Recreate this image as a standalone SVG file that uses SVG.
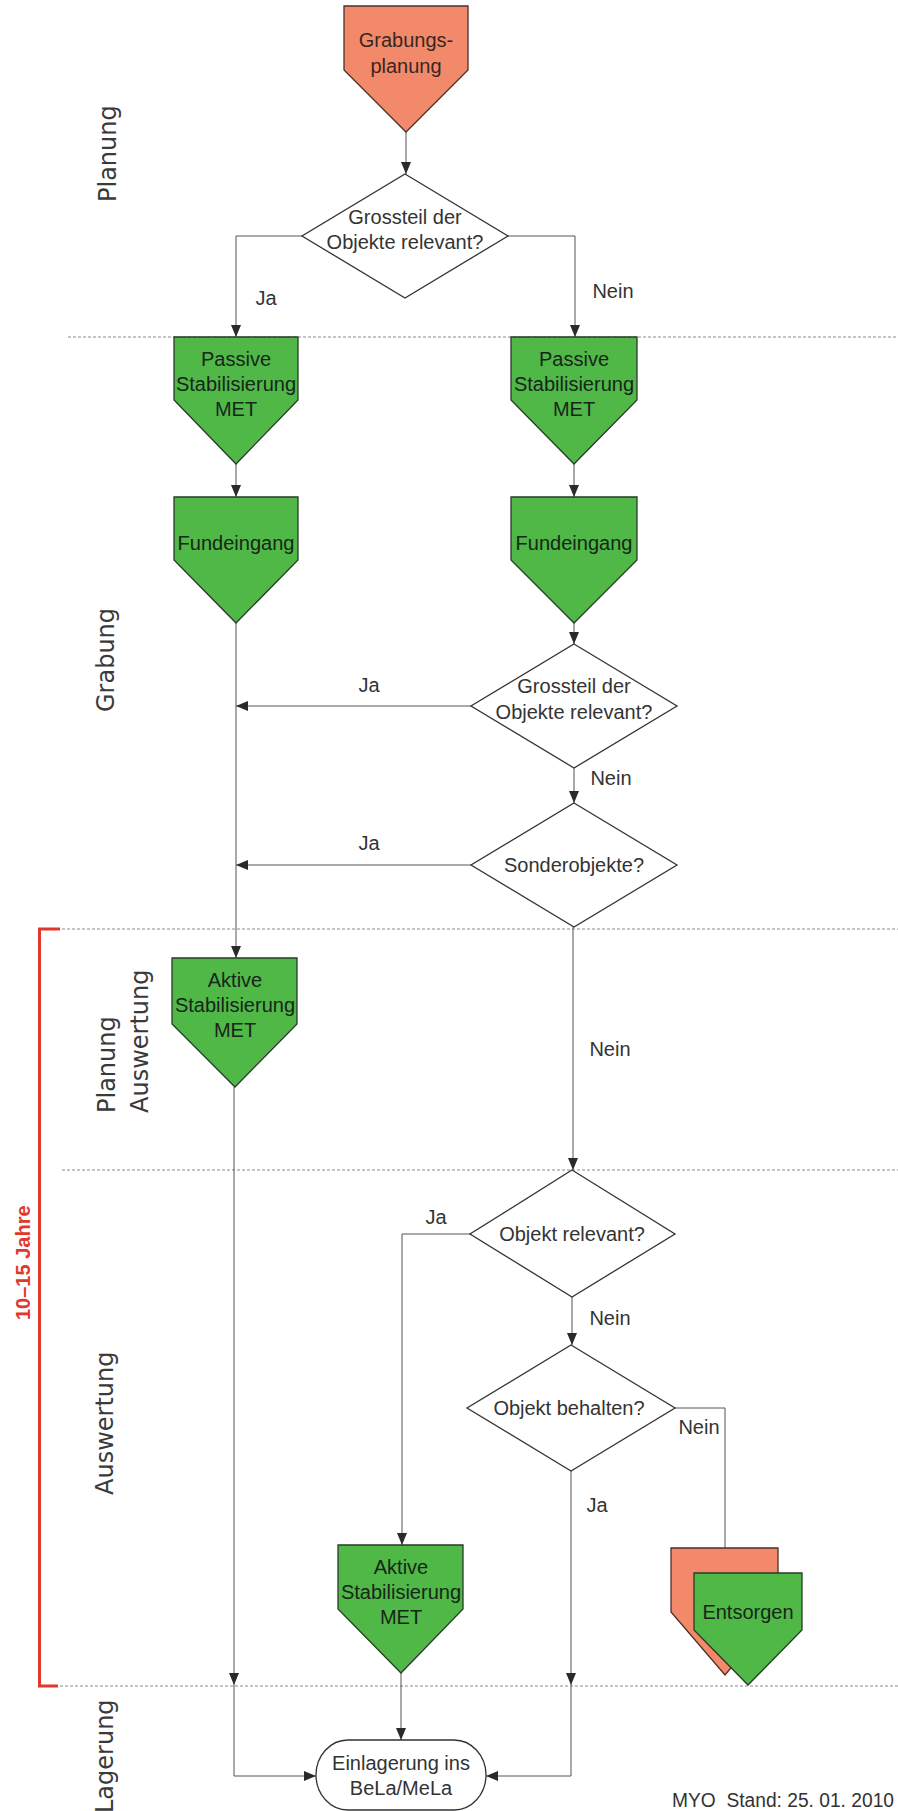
<svg xmlns="http://www.w3.org/2000/svg" width="898" height="1811" viewBox="0 0 898 1811">
<defs>
<marker id="arr" markerUnits="userSpaceOnUse" markerWidth="12" markerHeight="10" refX="12" refY="5" orient="auto">
<path d="M0,0 L12,5 L0,10 z" fill="#2a2a2a"/>
</marker>
<style>
.bg{fill:#ffffff}
.green{fill:#4fb846;stroke:#2b3a2b;stroke-width:1.3}
.orange{fill:#f3896b;stroke:#4a3028;stroke-width:1.3}
.dia{fill:#ffffff;stroke:#333333;stroke-width:1.3}
.term{fill:#ffffff;stroke:#333333;stroke-width:1.3}
.t{font-family:"Liberation Sans",Arial,sans-serif;font-size:20px;text-anchor:middle}
.tg{fill:#17261a}
.to{fill:#3a2620}
.td{fill:#333333}
.lbl{font-family:"Liberation Sans",Arial,sans-serif;font-size:20px;fill:#333333;text-anchor:middle}
.phase{font-family:"DejaVu Sans",sans-serif;font-size:24px;fill:#3a3a3a}
.sep{stroke:#8a8a8a;stroke-width:1;stroke-dasharray:3,2;fill:none}
.con{stroke:#555555;stroke-width:1;fill:none}
.arr{marker-end:url(#arr)}
.red{stroke:#e2372b;stroke-width:3;fill:none}
.redt{font-family:"Liberation Sans",Arial,sans-serif;font-size:20px;font-weight:bold;fill:#e2372b}
.foot{font-family:"Liberation Sans",Arial,sans-serif;font-size:20px;fill:#333333}
</style>
</defs>
<rect class="bg" x="0" y="0" width="898" height="1811"/>

<g id="separators">
<line class="sep" x1="68" y1="337" x2="898" y2="337"/>
<line class="sep" x1="62" y1="929" x2="898" y2="929"/>
<line class="sep" x1="62" y1="1170" x2="898" y2="1170"/>
<line class="sep" x1="60" y1="1686" x2="898" y2="1686"/>
</g>

<g id="phase-labels">
<text class="phase" transform="translate(116,202) rotate(-90)">Planung</text>
<text class="phase" transform="translate(114,712) rotate(-90)">Grabung</text>
<text class="phase" transform="translate(115,1113) rotate(-90)">Planung</text>
<text class="phase" transform="translate(148,1113) rotate(-90)">Auswertung</text>
<text class="phase" transform="translate(113,1495) rotate(-90)">Auswertung</text>
<text class="phase" transform="translate(113,1813) rotate(-90)">Lagerung</text>
</g>

<g id="period">
<path class="red" d="M60,929 H39.5 V1686 H58"/>
<text class="redt" transform="translate(30,1320) rotate(-90)">10–15 Jahre</text>
</g>

<g id="connectors">
<path class="con arr" d="M406,132 V174"/>
<path class="con arr" d="M302,236 H236 V337"/>
<path class="con arr" d="M508,236 H575 V337"/>
<path class="con arr" d="M236,464 V497"/>
<path class="con arr" d="M574,464 V497"/>
<path class="con arr" d="M574,623 V644"/>
<path class="con arr" d="M471,706 H236"/>
<path class="con arr" d="M574,768 V803"/>
<path class="con arr" d="M471,865 H236"/>
<path class="con arr" d="M236,623 V958"/>
<path class="con arr" d="M573,927 V1170"/>
<path class="con arr" d="M470,1234 H402 V1545"/>
<path class="con arr" d="M572,1297 V1345"/>
<path class="con" d="M675,1408 H725 V1548"/>
<path class="con arr" d="M571,1471 V1685"/>
<path class="con arr" d="M571,1685 V1776 H486"/>
<path class="con arr" d="M234,1087 V1685"/>
<path class="con arr" d="M234,1685 V1776 H316"/>
<path class="con arr" d="M401,1673 V1740"/>
</g>

<g id="connector-labels">
<text class="lbl" x="266" y="305">Ja</text>
<text class="lbl" x="613" y="298">Nein</text>
<text class="lbl" x="369" y="692">Ja</text>
<text class="lbl" x="611" y="785">Nein</text>
<text class="lbl" x="369" y="850">Ja</text>
<text class="lbl" x="610" y="1056">Nein</text>
<text class="lbl" x="436" y="1224">Ja</text>
<text class="lbl" x="610" y="1325">Nein</text>
<text class="lbl" x="699" y="1434">Nein</text>
<text class="lbl" x="597" y="1512">Ja</text>
</g>

<g id="grabungsplanung">
<polygon class="orange" points="344,6 468,6 468,70 406,132 344,70"/>
<text class="t to" x="406" y="47">Grabungs-</text>
<text class="t to" x="406" y="73">planung</text>
</g>

<g id="decision1">
<polygon class="dia" points="405,174 508,236 405,298 302,236"/>
<text class="t td" x="405" y="224">Grossteil der</text>
<text class="t td" x="405" y="249">Objekte relevant?</text>
</g>

<g id="passive-left">
<polygon class="green" points="174,337 298,337 298,400 236,464 174,400"/>
<text class="t tg" x="236" y="366">Passive</text>
<text class="t tg" x="236" y="391">Stabilisierung</text>
<text class="t tg" x="236" y="416">MET</text>
</g>

<g id="passive-right">
<polygon class="green" points="511,337 637,337 637,400 574,464 511,400"/>
<text class="t tg" x="574" y="366">Passive</text>
<text class="t tg" x="574" y="391">Stabilisierung</text>
<text class="t tg" x="574" y="416">MET</text>
</g>

<g id="fundeingang-left">
<polygon class="green" points="174,497 298,497 298,560 236,623 174,560"/>
<text class="t tg" x="236" y="550">Fundeingang</text>
</g>

<g id="fundeingang-right">
<polygon class="green" points="511,497 637,497 637,560 574,623 511,560"/>
<text class="t tg" x="574" y="550">Fundeingang</text>
</g>

<g id="decision2">
<polygon class="dia" points="574,644 677,706 574,768 471,706"/>
<text class="t td" x="574" y="693">Grossteil der</text>
<text class="t td" x="574" y="719">Objekte relevant?</text>
</g>

<g id="decision3">
<polygon class="dia" points="574,803 677,865 574,927 471,865"/>
<text class="t td" x="574" y="872">Sonderobjekte?</text>
</g>

<g id="aktive-left">
<polygon class="green" points="172,958 297,958 297,1024 235,1087 172,1024"/>
<text class="t tg" x="235" y="987">Aktive</text>
<text class="t tg" x="235" y="1012">Stabilisierung</text>
<text class="t tg" x="235" y="1037">MET</text>
</g>

<g id="decision4">
<polygon class="dia" points="572,1170 675,1234 572,1297 470,1234"/>
<text class="t td" x="572" y="1241">Objekt relevant?</text>
</g>

<g id="decision5">
<polygon class="dia" points="571,1345 675,1408 571,1471 467,1408"/>
<text class="t td" x="569" y="1415">Objekt behalten?</text>
</g>

<g id="aktive-middle">
<polygon class="green" points="338,1545 463,1545 463,1609 401,1673 338,1609"/>
<text class="t tg" x="401" y="1574">Aktive</text>
<text class="t tg" x="401" y="1599">Stabilisierung</text>
<text class="t tg" x="401" y="1624">MET</text>
</g>

<g id="entsorgen">
<polygon class="orange" points="671,1548 778,1548 778,1612 725,1675 671,1612"/>
<polygon class="green" points="694,1573 802,1573 802,1630 748,1685 694,1630"/>
<text class="t tg" x="748" y="1619">Entsorgen</text>
</g>

<g id="einlagerung">
<rect class="term" x="316" y="1740" width="170" height="70" rx="32" ry="35"/>
<text class="t td" x="401" y="1770">Einlagerung ins</text>
<text class="t td" x="401" y="1795">BeLa/MeLa</text>
</g>

<g id="footer">
<text class="foot" x="672" y="1807" textLength="222" lengthAdjust="spacingAndGlyphs" xml:space="preserve">MYO  Stand: 25. 01. 2010</text>
</g>
</svg>
